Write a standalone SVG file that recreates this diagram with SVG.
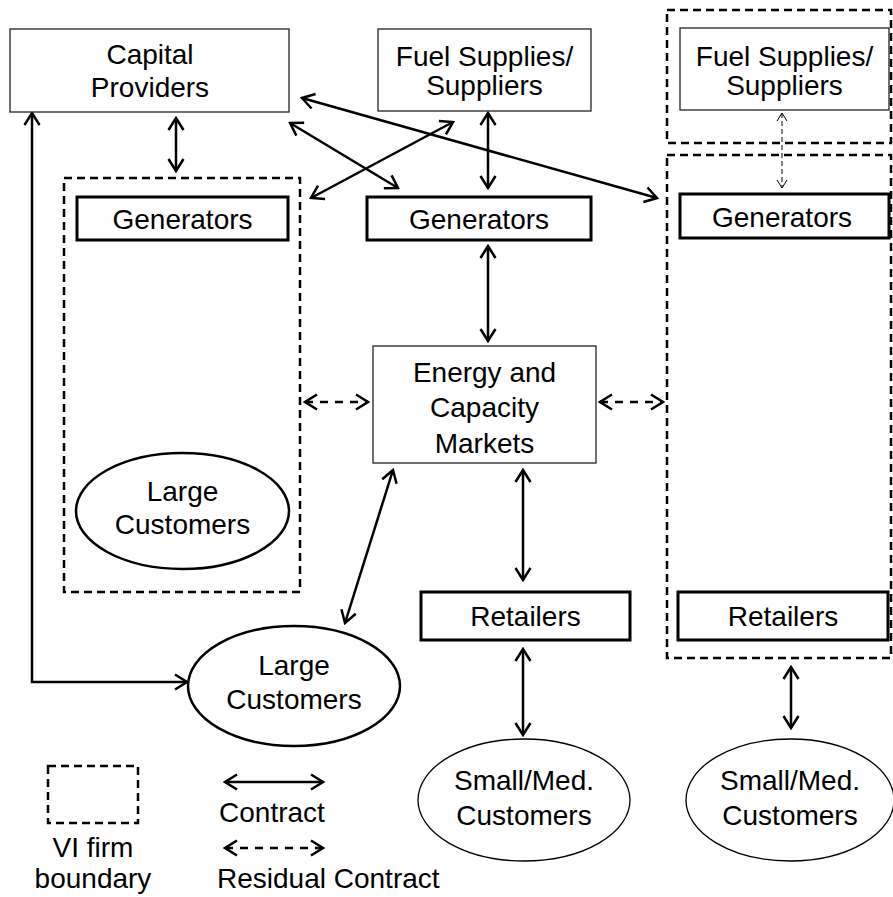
<svg xmlns="http://www.w3.org/2000/svg" width="893" height="897" viewBox="0 0 893 897">
<defs>
<style>
text{font-family:"Liberation Sans",Arial,sans-serif;font-size:28px;fill:#000;text-anchor:middle}
.thin{fill:#fff;stroke:#222;stroke-width:1.3}
.thick{fill:#fff;stroke:#000;stroke-width:3}
.vi{fill:none;stroke:#000;stroke-width:2.5;stroke-dasharray:8 5}
.ell{fill:#fff;stroke:#000;stroke-width:2.5}
.ellt{fill:#fff;stroke:#000;stroke-width:1.3}
.c{fill:none;stroke:#000;stroke-width:2.5;marker-start:url(#ah);marker-end:url(#ah)}
.r{fill:none;stroke:#000;stroke-width:2.5;stroke-dasharray:8 7;marker-start:url(#ahr);marker-end:url(#ahr)}
.f{fill:none;stroke:#000;stroke-width:1;stroke-dasharray:5 3;marker-start:url(#ahs);marker-end:url(#ahs)}
</style>
<marker id="ah" markerUnits="userSpaceOnUse" viewBox="-15 -10 17 20" refX="0" refY="0" markerWidth="17" markerHeight="20" orient="auto-start-reverse">
<path d="M-12,-7.5 L0,0 L-12,7.5" fill="none" stroke="#000" stroke-width="2.5"/>
</marker>
<marker id="ahr" markerUnits="userSpaceOnUse" viewBox="-15 -10 17 20" refX="0" refY="0" markerWidth="17" markerHeight="20" orient="auto-start-reverse">
<path d="M-12,-7.5 L0,0 L-12,7.5" fill="none" stroke="#000" stroke-width="2.5"/>
</marker>
<marker id="ahs" markerUnits="userSpaceOnUse" viewBox="-10 -7 12 14" refX="0" refY="0" markerWidth="12" markerHeight="14" orient="auto-start-reverse">
<path d="M-8,-5 L0,0 L-8,5" fill="none" stroke="#000" stroke-width="1"/>
</marker>
</defs>
<rect width="893" height="897" fill="#fff"/>

<g id="vi-boundaries">
<rect class="vi" x="64" y="178" width="236" height="414"/>
<rect class="vi" x="667" y="10" width="224" height="133"/>
<rect class="vi" x="667" y="155" width="224" height="503"/>
</g>

<g id="connectors">
<line class="c" x1="176" y1="118" x2="176" y2="171"/>
<polyline class="c" points="32,113 32,682 187,682"/>
<line class="c" x1="302" y1="98" x2="657" y2="198"/>
<line class="c" x1="290" y1="123" x2="398" y2="188"/>
<line class="c" x1="453" y1="122" x2="311" y2="198"/>
<line class="c" x1="488" y1="113" x2="488" y2="188"/>
<line class="c" x1="488" y1="246" x2="488" y2="341"/>
<line class="c" x1="523" y1="470" x2="523" y2="580"/>
<line class="c" x1="523" y1="649" x2="523" y2="735"/>
<line class="c" x1="791" y1="667" x2="791" y2="728"/>
<line class="c" x1="393" y1="470" x2="345" y2="623"/>
<line class="r" x1="305" y1="402" x2="368" y2="402"/>
<line class="r" x1="600" y1="402" x2="663" y2="402"/>
<line class="f" x1="782" y1="113" x2="782" y2="188"/>
</g>

<g id="capital-providers">
<rect class="thin" x="10" y="29" width="279" height="83"/>
<text x="150" y="64">Capital</text>
<text x="150" y="97">Providers</text>
</g>
<g id="fuel-suppliers-mid">
<rect class="thin" x="378" y="29" width="213" height="82"/>
<text x="484.5" y="66">Fuel Supplies/</text>
<text x="484.5" y="95">Suppliers</text>
</g>
<g id="fuel-suppliers-right">
<rect class="thin" x="680" y="28" width="209" height="82"/>
<text x="784.5" y="66">Fuel Supplies/</text>
<text x="784.5" y="95">Suppliers</text>
</g>

<g id="generators-left">
<rect class="thick" x="77" y="197" width="211" height="43"/>
<text x="182.5" y="229">Generators</text>
</g>
<g id="generators-mid">
<rect class="thick" x="367" y="197" width="224" height="43"/>
<text x="479" y="229">Generators</text>
</g>
<g id="generators-right">
<rect class="thick" x="680" y="194" width="209" height="44"/>
<text x="782" y="227">Generators</text>
</g>

<g id="energy-capacity-markets">
<rect class="thin" x="373" y="346" width="223" height="117"/>
<text x="484.5" y="382">Energy and</text>
<text x="484.5" y="417">Capacity</text>
<text x="484.5" y="453">Markets</text>
</g>

<g id="large-customers-vi">
<ellipse class="ell" cx="182.5" cy="511" rx="106.5" ry="58"/>
<text x="182.5" y="501">Large</text>
<text x="182.5" y="534">Customers</text>
</g>
<g id="large-customers">
<ellipse class="ell" cx="294" cy="686" rx="106" ry="60"/>
<text x="294" y="675">Large</text>
<text x="294" y="709">Customers</text>
</g>

<g id="retailers-mid">
<rect class="thick" x="421" y="592" width="209" height="48"/>
<text x="525.5" y="626">Retailers</text>
</g>
<g id="retailers-right">
<rect class="thick" x="678" y="592" width="210" height="48"/>
<text x="783" y="626">Retailers</text>
</g>

<g id="small-med-mid">
<ellipse class="ellt" cx="524" cy="800" rx="106" ry="61"/>
<text x="524" y="790">Small/Med.</text>
<text x="524" y="825">Customers</text>
</g>
<g id="small-med-right">
<ellipse class="ellt" cx="790" cy="800" rx="104" ry="61"/>
<text x="790" y="790">Small/Med.</text>
<text x="790" y="825">Customers</text>
</g>

<g id="legend">
<rect class="vi" x="48" y="766" width="90" height="57"/>
<text x="93" y="857">VI firm</text>
<text x="93" y="888">boundary</text>
<line class="c" x1="225" y1="782" x2="323" y2="782"/>
<text x="272" y="822">Contract</text>
<line class="r" x1="225" y1="848" x2="323" y2="848"/>
<text x="217" y="888" style="text-anchor:start">Residual Contract</text>
</g>
</svg>
